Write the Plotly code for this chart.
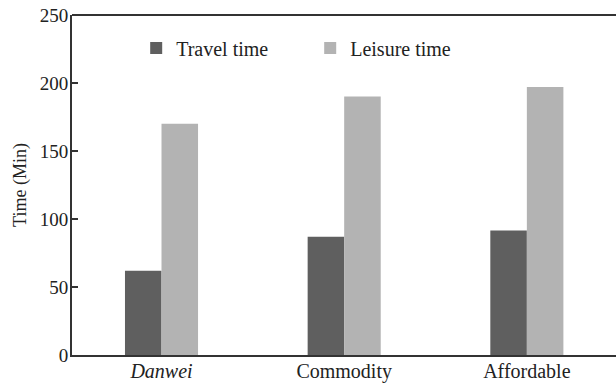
import plotly.graph_objects as go

categories = ["Danwei", "Commodity", "Affordable"]
tick_labels = ["<i>Danwei</i>", "Commodity", "Affordable"]
travel_time = [62, 87, 91.5]
leisure_time = [170, 190, 197]
y_ticks = [0, 50, 100, 150, 200, 250]

font_family = "Liberation Serif, Times New Roman, serif"

fig = go.Figure()
fig.add_trace(go.Bar(name="Travel time", x=categories, y=travel_time,
                     marker=dict(color="#5f5f5f", line=dict(width=0))))
fig.add_trace(go.Bar(name="Leisure time", x=categories, y=leisure_time,
                     marker=dict(color="#b3b3b3", line=dict(width=0))))

fig.update_layout(
    width=616, height=385,
    margin=dict(l=72, r=0, t=15, b=30, autoexpand=False),
    paper_bgcolor="white", plot_bgcolor="white",
    barmode="group", bargap=0.6, bargroupgap=0,
    font=dict(family=font_family, color="#222", size=19),
    showlegend=True,
    legend=dict(orientation="h", x=0.118, y=0.96, xanchor="left", yanchor="top",
                entrywidth=129, entrywidthmode="pixels",
                font=dict(size=20, family=font_family), bgcolor="rgba(0,0,0,0)",
                itemclick=False),
    xaxis=dict(
        type="category", range=[-0.49, 2.488],
        tickvals=categories, ticktext=tick_labels,
        showline=True, linecolor="#333", linewidth=2, mirror=False,
        ticks="", showgrid=False, zeroline=False, automargin=False,
        ticklabelstandoff=-3,
        tickfont=dict(size=20, family=font_family),
    ),
    yaxis=dict(
        range=[0, 250], tickvals=y_ticks,
        showline=True, linecolor="#333", linewidth=2,
        ticks="inside", ticklen=6, tickwidth=2, tickcolor="#333",
        showgrid=False, zeroline=False, automargin=False,
        ticklabelstandoff=-2, ticklabeloverflow="allow",
        tickfont=dict(size=19, family=font_family),
        title=dict(text="Time (Min)", font=dict(size=18, family=font_family), standoff=8),
    ),
)
# top frame line only (no right-hand border in the reference)
fig.add_shape(type="line", xref="paper", yref="paper", x0=0, x1=1, y0=1, y1=1,
              line=dict(color="#333", width=2))

fig.write_html("out.html", config={"displayModeBar": False},
               post_script="document.body.style.margin='0';document.body.style.padding='0';")
